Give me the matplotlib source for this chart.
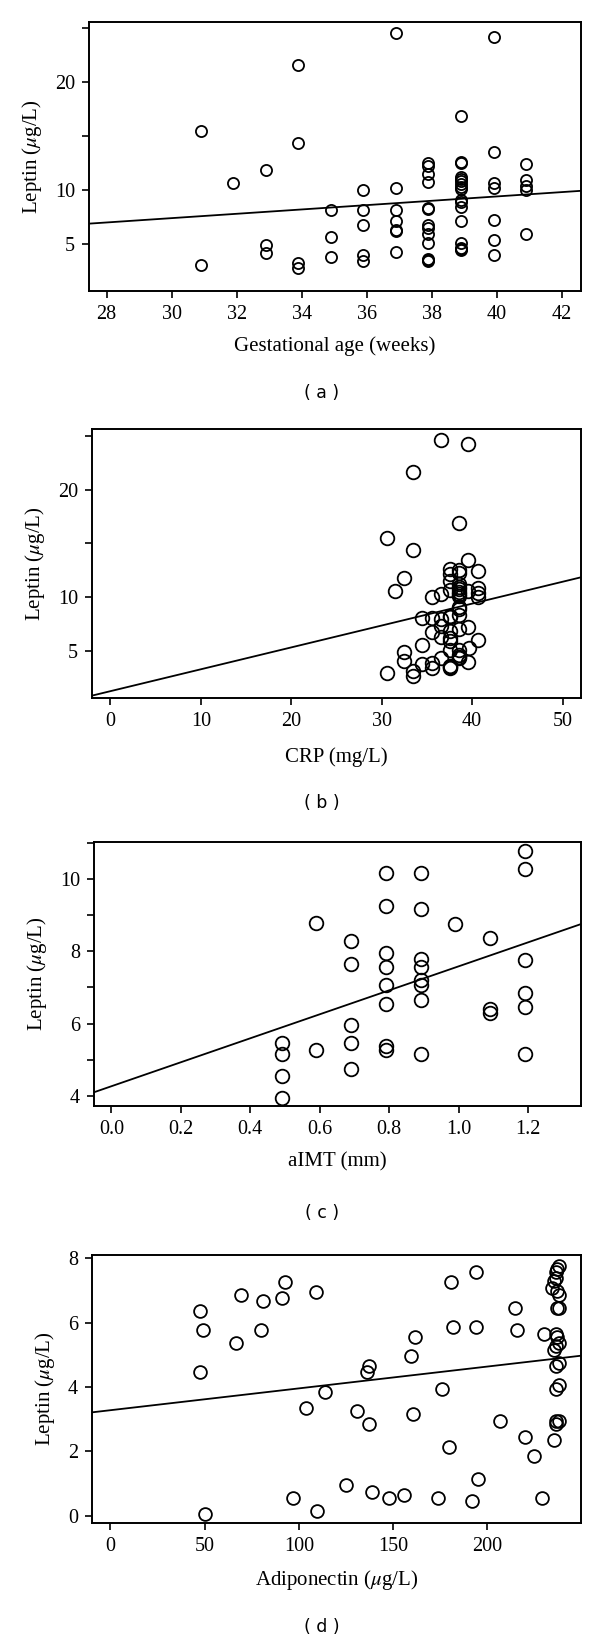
import numpy as np
import matplotlib
matplotlib.use("Agg")
import matplotlib.pyplot as plt

plt.rcParams["mathtext.fontset"] = "stix"

# (a) gestational age vs leptin
ga_weeks = [30.9, 30.9, 31.9, 32.9, 32.9, 32.9,
            33.9, 33.9, 33.9, 33.9, 34.9, 34.9, 34.9,
            35.9, 35.9, 35.9, 35.9, 35.9,
            36.9, 36.9, 36.9, 36.9, 36.9, 36.9, 36.9,
            37.9, 37.9, 37.9, 37.9, 37.9, 37.9, 37.9, 37.9, 37.9, 37.9, 37.9, 37.9, 37.9,
            38.9, 38.9, 38.9, 38.9, 38.9, 38.9, 38.9, 38.9, 38.9, 38.9, 38.9, 38.9, 38.9,
            38.9, 38.9, 38.9, 38.9,
            39.9, 39.9, 39.9, 39.9, 39.9, 39.9, 39.9,
            40.9, 40.9, 40.9, 40.9, 40.9]
ga_leptin = [15.5, 3.0, 10.6, 11.8, 4.9, 4.1,
             21.6, 14.4, 3.2, 2.7, 8.1, 5.6, 3.8,
             10.0, 8.1, 6.7, 3.9, 3.4,
             24.6, 10.2, 8.1, 7.1, 6.3, 6.2, 4.2,
             12.5, 12.2, 11.5, 10.7, 8.3, 8.25, 6.7, 6.5, 5.9, 5.1, 3.6, 3.45, 3.35,
             16.9, 12.6, 12.5, 11.2, 11.0, 10.8, 10.5, 10.3, 10.1, 9.1, 8.9, 8.4, 7.1,
             5.1, 4.6, 4.5, 4.4,
             24.2, 13.5, 10.6, 10.2, 7.2, 5.3, 3.9,
             12.4, 10.9, 10.4, 10.0, 5.9]
ga_fit = (1.324, 0.2016)

# (b) CRP vs leptin
crp = [36.6, 39.5, 33.5, 38.6, 30.6, 33.5, 39.5, 32.5, 40.6, 37.5, 37.5, 38.6, 38.6,
       37.5, 31.5, 35.6, 36.6, 37.5, 38.6, 38.6, 38.6, 38.6, 38.6, 38.6, 39.5, 40.6,
       40.6, 40.6, 38.6, 38.6, 38.6, 37.5, 37.5, 34.5, 35.6, 36.6, 36.6, 35.6, 37.5,
       36.6, 37.5, 38.6, 39.5, 40.6, 34.5, 37.5, 37.5, 39.7, 38.6, 38.6, 38.6, 38.6,
       32.5, 32.5, 36.6, 34.5, 35.6, 35.6, 37.5, 37.5, 37.5, 39.5, 30.6, 33.5, 33.5]
crp_leptin = [24.6, 24.2, 21.6, 16.9, 15.5, 14.4, 13.5, 11.8, 12.4, 12.6, 12.2, 12.5, 12.3,
              11.5, 10.6, 10.0, 10.3, 10.7, 11.2, 11.0, 10.8, 10.5, 10.3, 10.1, 10.6, 10.9,
              10.4, 10.0, 9.1, 8.9, 8.4, 8.3, 8.2, 8.1, 8.1, 8.0, 7.3, 6.8, 6.9,
              6.3, 6.2, 7.1, 7.2, 6.0, 5.6, 5.9, 5.1, 5.3, 5.1, 4.6, 4.5, 4.4,
              4.9, 4.1, 4.4, 3.8, 3.9, 3.4, 3.6, 3.5, 3.4, 4.0, 3.0, 3.2, 2.7]
crp_fit = (1.285, 0.2032)

# (c) aIMT vs leptin
aimt = [0.49, 0.49, 0.49, 0.49, 0.59, 0.59,
        0.69, 0.69, 0.69, 0.69, 0.69,
        0.79, 0.79, 0.79, 0.79, 0.79, 0.79, 0.79, 0.79,
        0.89, 0.89, 0.89, 0.89, 0.89, 0.89, 0.89, 0.89,
        0.99, 1.09, 1.09, 1.09,
        1.19, 1.19, 1.19, 1.19, 1.19, 1.19]
aimt_leptin = [5.45, 5.15, 4.55, 3.95, 8.77, 5.26,
               8.27, 7.65, 5.95, 5.46, 4.75,
               10.16, 9.26, 7.95, 7.56, 7.06, 6.55, 5.39, 5.26,
               10.16, 9.16, 7.78, 7.56, 7.2, 7.06, 6.65, 5.16,
               8.76, 8.37, 6.39, 6.28,
               10.76, 10.26, 7.76, 6.85, 6.46, 5.16]
aimt_fit = (4.266, 3.317)

# (d) adiponectin vs leptin
adipo = [47.8, 49.0, 47.8, 50.2, 66.9, 69.1, 80.1, 80.9, 90.9, 92.9, 97.0, 103.9,
         108.9, 109.8, 113.8, 124.8, 130.9, 136.0, 137.0, 137.0, 138.6, 147.8, 155.7,
         159.8, 160.8, 161.8, 173.8, 175.8, 179.9, 180.9, 181.9, 191.9, 193.9, 193.9,
         194.9, 206.9, 215.0, 215.9, 219.9, 224.8, 228.9, 229.9,
         235.6, 236.6, 236.6, 238.2, 236.6, 238.2, 236.6, 238.2, 235.6, 236.6, 238.2,
         236.6, 237.2, 237.2, 238.2, 237.2, 238.2, 234.6, 235.6, 236.6, 236.6, 237.2, 238.2]
adipo_leptin = [6.36, 5.76, 4.45, 0.05, 5.35, 6.85, 5.76, 6.66, 6.75, 7.27, 0.55, 3.33,
                6.96, 0.13, 3.84, 0.94, 3.26, 4.45, 4.66, 2.85, 0.73, 0.55, 0.65,
                4.95, 3.16, 5.55, 0.55, 3.94, 2.14, 7.27, 5.86, 0.45, 7.57, 5.86,
                1.15, 2.95, 6.46, 5.76, 2.44, 1.84, 0.55, 5.65,
                2.36, 2.85, 2.93, 2.95, 3.94, 4.05, 4.66, 4.75, 5.16, 5.26, 5.35,
                5.65, 5.55, 6.46, 6.44, 6.97, 6.86, 7.07, 7.28, 7.38, 7.57, 7.67, 7.77]
adipo_fit = (3.276, 0.00678)

W, H = 600, 1643
fig = plt.figure(figsize=(W / 100, H / 100), dpi=100)
serif = "Liberation Serif"


def make_ax(left, right, top, bottom):
    return fig.add_axes([left / W, 1 - bottom / H, (right - left) / W, (bottom - top) / H])


panels = [
    dict(box=(89, 581, 22, 291), x=ga_weeks, y=ga_leptin, fit=ga_fit, ms=8.0,
         xlim=(27.46, 42.59), ylim=(0.6, 25.6), xticks=np.arange(28, 43, 2),
         xfmt="{:.0f}", yticks=[5, 10, 15, 20, 25], ylabels=["5", "10", "", "20", ""],
         xlabel="Gestational age (weeks)", xl_y=346, tag="( a )", tag_y=393),
    dict(box=(92, 581, 429, 698), x=crp, y=crp_leptin, fit=crp_fit, ms=9.8,
         xlim=(-2.04, 52.04), ylim=(0.65, 25.63), xticks=np.arange(0, 51, 10),
         xfmt="{:.0f}", yticks=[5, 10, 15, 20, 25], ylabels=["5", "10", "", "20", ""],
         xlabel="CRP (mg/L)", xl_y=757, tag="( b )", tag_y=803),
    dict(box=(94, 581, 842, 1106), x=aimt, y=aimt_leptin, fit=aimt_fit, ms=9.8,
         xlim=(-0.05, 1.352), ylim=(3.72, 11.02), xticks=np.arange(0, 1.21, 0.2),
         xfmt="{:.1f}", yticks=list(range(4, 12)),
         ylabels=["4", "", "6", "", "8", "", "10", ""],
         xlabel="aIMT (mm)", xl_y=1162, tag="( c )", tag_y=1213),
    dict(box=(92, 581, 1255, 1523), x=adipo, y=adipo_leptin, fit=adipo_fit, ms=9.2,
         xlim=(-9.8, 249.8), ylim=(-0.23, 8.1), xticks=np.arange(0, 201, 50),
         xfmt="{:.0f}", yticks=[0, 2, 4, 6, 8], ylabels=["0", "2", "4", "6", "8"],
         xlabel="Adiponectin ($\\mu$g/L)", xl_y=1580, tag="( d )", tag_y=1627),
]

for p in panels:
    ax = make_ax(*p["box"])
    ax.plot(p["x"], p["y"], "o", mfc="none", mec="black", mew=1.3, ms=p["ms"],
            linestyle="none", zorder=3)
    a, b = p["fit"]
    xs = np.array(p["xlim"])
    ax.plot(xs, a + b * xs, color="black", lw=1.3, zorder=2)
    ax.set_xlim(*p["xlim"])
    ax.set_ylim(*p["ylim"])
    ax.set_xticks(p["xticks"])
    ax.set_xticklabels([p["xfmt"].format(v) for v in p["xticks"]])
    ax.set_yticks(p["yticks"])
    ax.set_yticklabels(p["ylabels"])
    for lab in ax.get_xticklabels() + ax.get_yticklabels():
        lab.set_fontfamily(serif)
        lab.set_fontsize(14.5)
    ax.tick_params(direction="out", length=5, width=1.2, pad=5)
    for s in ax.spines.values():
        s.set_linewidth(1.4)
    ax.set_ylabel("Leptin ($\\mu$g/L)", fontfamily=serif, fontsize=15, labelpad=8)
    left, right = p["box"][0], p["box"][1]
    fig.text((left + right) / 2 / W, 1 - p["xl_y"] / H, p["xlabel"], ha="center",
             va="center", fontfamily=serif, fontsize=15)
    fig.text(322 / W, 1 - p["tag_y"] / H, p["tag"], ha="center", va="center",
             fontfamily="DejaVu Sans", fontsize=12.5)

fig.savefig("out.png", dpi=100)
